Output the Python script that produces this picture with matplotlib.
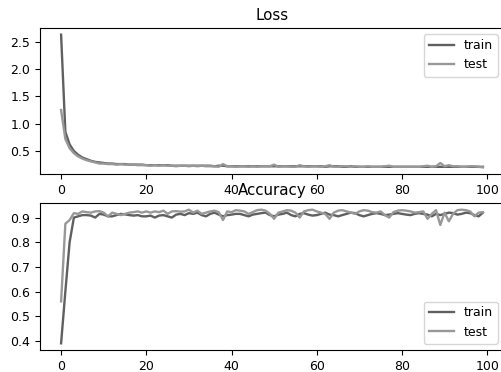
import matplotlib
matplotlib.use("Agg")
import matplotlib.pyplot as plt

epochs = list(range(100))

loss_train = [2.63, 0.85, 0.62, 0.50, 0.43, 0.38, 0.35, 0.32, 0.30, 0.29,
              0.28, 0.27, 0.27, 0.26, 0.26, 0.26, 0.25, 0.25, 0.25, 0.25,
              0.24, 0.24, 0.24, 0.24, 0.24, 0.24, 0.23, 0.23, 0.23, 0.23,
              0.23, 0.23, 0.23, 0.23, 0.23, 0.23, 0.22, 0.23, 0.23, 0.22,
              0.22, 0.22, 0.22, 0.22, 0.22, 0.22, 0.22, 0.22, 0.22, 0.22,
              0.22, 0.22, 0.22, 0.22, 0.22, 0.22, 0.22, 0.22, 0.22, 0.22,
              0.22, 0.22, 0.21, 0.22, 0.22, 0.22, 0.21, 0.21, 0.22, 0.21,
              0.21, 0.21, 0.21, 0.21, 0.21, 0.21, 0.21, 0.21, 0.21, 0.21,
              0.21, 0.21, 0.21, 0.21, 0.21, 0.21, 0.21, 0.21, 0.21, 0.21,
              0.21, 0.21, 0.21, 0.21, 0.21, 0.21, 0.21, 0.21, 0.21, 0.21]

loss_test = [1.25, 0.72, 0.55, 0.46, 0.40, 0.36, 0.33, 0.31, 0.29, 0.27,
             0.27, 0.26, 0.26, 0.25, 0.26, 0.25, 0.25, 0.25, 0.24, 0.24,
             0.24, 0.23, 0.24, 0.23, 0.24, 0.23, 0.23, 0.22, 0.23, 0.23,
             0.22, 0.23, 0.22, 0.23, 0.22, 0.22, 0.22, 0.21, 0.26, 0.22,
             0.22, 0.21, 0.22, 0.22, 0.21, 0.22, 0.21, 0.22, 0.22, 0.22,
             0.25, 0.21, 0.22, 0.22, 0.21, 0.21, 0.24, 0.22, 0.21, 0.22,
             0.22, 0.21, 0.22, 0.24, 0.21, 0.21, 0.22, 0.22, 0.21, 0.22,
             0.21, 0.21, 0.22, 0.21, 0.21, 0.21, 0.22, 0.23, 0.21, 0.21,
             0.21, 0.21, 0.21, 0.21, 0.21, 0.22, 0.23, 0.21, 0.22, 0.28,
             0.22, 0.24, 0.22, 0.22, 0.21, 0.21, 0.22, 0.22, 0.21, 0.20]

acc_train = [0.39, 0.60, 0.80, 0.900, 0.905, 0.910, 0.910, 0.908, 0.900, 0.915,
             0.912, 0.905, 0.905, 0.910, 0.915, 0.913, 0.910, 0.908, 0.910, 0.905,
             0.905, 0.908, 0.900, 0.908, 0.910, 0.905, 0.900, 0.912, 0.915, 0.910,
             0.918, 0.915, 0.920, 0.910, 0.905, 0.915, 0.920, 0.912, 0.905, 0.910,
             0.912, 0.915, 0.915, 0.910, 0.905, 0.912, 0.915, 0.918, 0.920, 0.910,
             0.905, 0.912, 0.915, 0.920, 0.910, 0.905, 0.915, 0.918, 0.912, 0.908,
             0.910, 0.915, 0.920, 0.912, 0.910, 0.905, 0.910, 0.915, 0.920, 0.918,
             0.910, 0.905, 0.910, 0.915, 0.918, 0.915, 0.910, 0.912, 0.915, 0.918,
             0.915, 0.912, 0.910, 0.915, 0.918, 0.915, 0.912, 0.905, 0.915, 0.910,
             0.915, 0.920, 0.918, 0.912, 0.915, 0.920, 0.918, 0.910, 0.905, 0.920]

acc_test = [0.56, 0.875, 0.890, 0.918, 0.915, 0.925, 0.922, 0.920, 0.925, 0.926,
            0.920, 0.905, 0.920, 0.915, 0.910, 0.915, 0.920, 0.922, 0.925, 0.920,
            0.925, 0.920, 0.925, 0.922, 0.928, 0.915, 0.925, 0.926, 0.924, 0.925,
            0.932, 0.920, 0.928, 0.915, 0.920, 0.925, 0.928, 0.922, 0.890, 0.925,
            0.922, 0.930, 0.928, 0.925, 0.915, 0.922, 0.930, 0.932, 0.928, 0.915,
            0.895, 0.920, 0.925, 0.930, 0.928, 0.920, 0.900, 0.925, 0.930, 0.932,
            0.925, 0.920, 0.915, 0.895, 0.920, 0.928, 0.930, 0.925, 0.920, 0.915,
            0.925, 0.930, 0.928, 0.922, 0.920, 0.925, 0.910, 0.900, 0.922, 0.928,
            0.930, 0.928, 0.925, 0.920, 0.922, 0.925, 0.895, 0.915, 0.930, 0.870,
            0.920, 0.885, 0.915, 0.930, 0.932, 0.930, 0.925, 0.905, 0.920, 0.922]

x_ticks = [0, 20, 40, 60, 80, 100]
loss_ticks = [0.5, 1.0, 1.5, 2.0, 2.5]
acc_ticks = [0.4, 0.5, 0.6, 0.7, 0.8, 0.9]

plt.rcParams['font.size'] = 9.0
TRAIN_C = '#606060'
TEST_C = '#989898'

fig = plt.figure(figsize=(5.02, 3.72), dpi=100)
ax1 = fig.add_axes([40/502, 1-174/372, 464/502, 146/372])
ax2 = fig.add_axes([40/502, 1-350/372, 464/502, 147/372])

ax1.plot(epochs, loss_train, color=TRAIN_C, lw=1.7, label='train')
ax1.plot(epochs, loss_test, color=TEST_C, lw=1.7, label='test')
ax1.set_title('Loss')
ax1.set_xticks(x_ticks)
ax1.set_yticks(loss_ticks)
ax1.legend(loc='upper right')

ax2.plot(epochs, acc_train, color=TRAIN_C, lw=1.7, label='train')
ax2.plot(epochs, acc_test, color=TEST_C, lw=1.7, label='test')
ax2.set_title('Accuracy')
ax2.set_xticks(x_ticks)
ax2.set_yticks(acc_ticks)
ax2.legend(loc='lower right')

fig.savefig('out.png', dpi=100)
